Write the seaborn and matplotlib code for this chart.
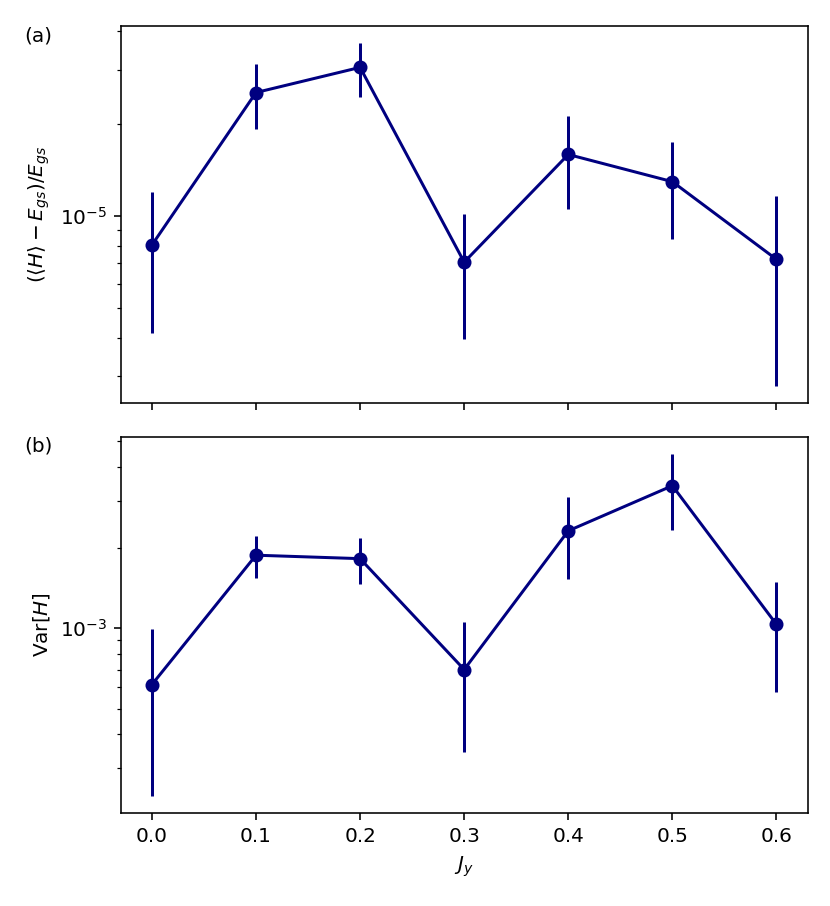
import matplotlib
matplotlib.use("Agg")
import matplotlib.pyplot as plt
from matplotlib.ticker import NullFormatter
import numpy as np
import pandas as pd
import seaborn as sns

# coupling values on the x axis
jy = [0.0, 0.1, 0.2, 0.3, 0.4, 0.5, 0.6]

# relative energy error and its uncertainty
rel_energy = [8.03e-6, 2.527e-5, 3.053e-5, 7.06e-6, 1.586e-5, 1.293e-5, 7.21e-6]
rel_energy_err = [3.9e-6, 6.0e-6, 6.1e-6, 3.1e-6, 5.35e-6, 4.5e-6, 4.43e-6]

# energy variance and its uncertainty
variance = [6.15e-4, 1.875e-3, 1.82e-3, 7.0e-4, 2.313e-3, 3.412e-3, 1.033e-3]
variance_err = [3.8e-4, 3.3e-4, 3.6e-4, 3.55e-4, 7.8e-4, 1.08e-3, 4.57e-4]

COLOR = "navy"

df = pd.DataFrame({"jy": jy, "rel_energy": rel_energy, "variance": variance})

fig = plt.figure(figsize=(830 / 144, 906 / 144), dpi=144)
ax_top = fig.add_axes([0.1454, 0.5549, 0.8277, 0.4164])
ax_bot = fig.add_axes([0.1454, 0.1023, 0.8277, 0.4157], sharex=ax_top)


def draw_panel(ax, col, err, ylabel):
    ax.set_yscale("log")
    ax.errorbar(df["jy"], df[col], yerr=err, fmt="none", ecolor=COLOR, elinewidth=1.5)
    sns.lineplot(data=df, x="jy", y=col, ax=ax, color=COLOR, marker="o",
                 markersize=6, markeredgecolor=COLOR, markeredgewidth=1.0,
                 linewidth=1.5)
    # y range: error bars plus a 5% margin in log space
    lo = np.log10(df[col] - np.array(err)).min()
    hi = np.log10(df[col] + np.array(err)).max()
    pad = 0.05 * (hi - lo)
    ax.set_ylim(10 ** (lo - pad), 10 ** (hi + pad))
    ax.yaxis.set_minor_formatter(NullFormatter())
    ax.set_ylabel(ylabel)
    ax.set_xlabel("")


draw_panel(ax_top, "rel_energy", rel_energy_err, r"$(\langle H\rangle - E_{gs})/E_{gs}$")
draw_panel(ax_bot, "variance", variance_err, r"Var$[H]$")

ax_top.tick_params(labelbottom=False)
ax_bot.set_xlabel(r"$J_y$")
ax_bot.set_xticks(jy)
ax_bot.set_xlim(-0.03, 0.63)

# panel labels
fig.text(0.029, 0.9713, "(a)", va="top", ha="left")
fig.text(0.029, 0.518, "(b)", va="top", ha="left")

fig.savefig("out.png", dpi=144)
